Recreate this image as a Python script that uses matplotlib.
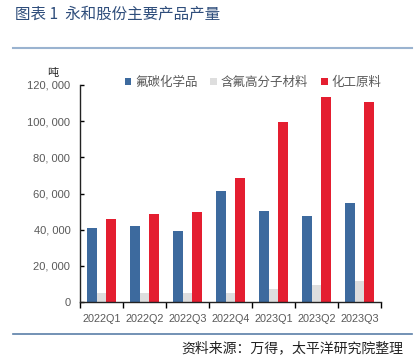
import numpy as np
import matplotlib
matplotlib.use('Agg')
import matplotlib.pyplot as plt
from matplotlib.ticker import FuncFormatter, FixedLocator
from matplotlib.lines import Line2D

plt.rcParams['font.family'] = ['Liberation Sans', 'Noto Sans CJK SC', 'DejaVu Sans']

quarters = ['2022Q1', '2022Q2', '2022Q3', '2022Q4', '2023Q1', '2023Q2', '2023Q3']
fluorocarbon = [41000, 42000, 39300, 61600, 50300, 47700, 54600]
fluoropolymer = [5000, 4900, 5100, 5000, 7200, 9400, 11600]
chem_raw = [45700, 48700, 49800, 68600, 99600, 113200, 110800]
series_names = ['氟碳化学品', '含氟高分子材料', '化工原料']
colors = ['#3D6A9E', '#DEDEDE', '#E41E30']

fig = plt.figure(figsize=(4.2, 3.55), dpi=100)
ax = fig.add_axes([80 / 420, 1 - 302 / 355, 301 / 420, 217 / 355])

x = np.arange(len(quarters))
w = 0.23
for off, vals, c, name in zip([-w, 0, w], [fluorocarbon, fluoropolymer, chem_raw], colors, series_names):
    ax.bar(x + off, vals, width=w, color=c, label=name, zorder=2)

ax.set_xlim(-0.5, len(quarters) - 0.5)
ax.set_ylim(0, 120000)
ax.set_yticks(np.arange(0, 120001, 20000))
ax.yaxis.set_major_formatter(FuncFormatter(lambda v, p: f'{v:,.0f}'.replace(',', ', ')))
ax.set_xticks(x)
ax.set_xticklabels(quarters)
ax.xaxis.set_minor_locator(FixedLocator(np.arange(-0.5, len(quarters), 1.0)))
ax.tick_params(axis='x', which='major', length=0, pad=9, labelsize=7.8, labelcolor='#595959')
ax.tick_params(axis='x', which='minor', length=4, direction='out', width=1)
ax.tick_params(axis='y', length=3, direction='in', pad=7, labelsize=8, labelcolor='#595959', width=1)
for s in ['top', 'right']:
    ax.spines[s].set_visible(False)
for s in ['left', 'bottom']:
    ax.spines[s].set_linewidth(1)
    ax.spines[s].set_color('#222222')

fig.text(53 / 420, 1 - 73 / 355, '吨', fontsize=8, ha='center', va='center', color='#222222')

fig.legend(loc='center', bbox_to_anchor=(253 / 420, 1 - 83 / 355), ncol=3, frameon=False,
           fontsize=9, handlelength=0.55, handleheight=0.55, handletextpad=0.3,
           columnspacing=1.0, labelcolor='#595959', borderaxespad=0)

fig.text(15 / 420, 1 - 14 / 355, '图表 1  永和股份主要产品产量', fontsize=11.2,
         color='#2E4D7B', ha='left', va='center', family=['Noto Sans CJK SC'])
fig.add_artist(Line2D([13 / 420, 412 / 420], [1 - 48 / 355] * 2, color='#9AB3D0', lw=1.5))
fig.add_artist(Line2D([13 / 420, 412 / 420], [1 - 334 / 355] * 2, color='#5B7FA8', lw=1.2))
fig.text(403 / 420, 1 - 348 / 355, '资料来源：万得，太平洋研究院整理', fontsize=10,
         color='#222222', ha='right', va='center', style='italic', family=['Noto Sans CJK SC'])

fig.savefig('out.png', dpi=100)
